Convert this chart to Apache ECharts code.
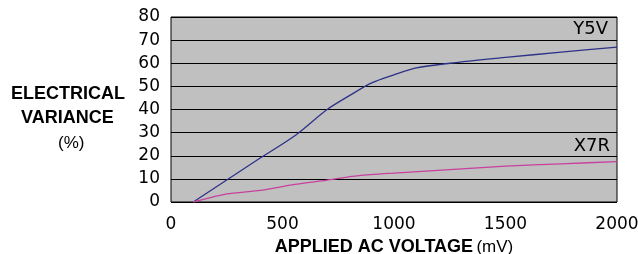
<!DOCTYPE html>
<html>
<head>
<meta charset="utf-8">
<script src="https://cdn.jsdelivr.net/npm/echarts@6/dist/echarts.min.js"></script>
<style>
  html, body { margin: 0; padding: 0; background: #fff; }
  #chart { width: 638px; height: 254px; }
</style>
</head>
<body>
<div id="chart"></div>
<script>
// applied AC voltage (mV) and electrical variance (%)
const y5vVoltage = [100, 250, 400, 560, 700, 800, 900, 1000, 1100, 1250, 1500, 1750, 2000]
const y5vVariance = [0, 9.5, 19, 29, 40, 46, 51.5, 55, 58, 60, 62.5, 64.8, 67]
const x7rVoltage = [100, 250, 400, 550, 700, 850, 1000, 1250, 1500, 1750, 2000]
const x7rVariance = [0, 3.5, 5, 7.5, 9.5, 11.5, 12.5, 14, 15.5, 16.5, 17.5]
const seriesNames = ['Y5V', 'X7R']

const pairs = (xs, ys) => xs.map((x, i) => [x, ys[i]])

const chart = echarts.init(document.getElementById('chart'))
const tickFont = 'DejaVu Sans'

chart.setOption({
  animation: false,
  grid: {
    left: 171,
    top: 17,
    width: 446,
    height: 185,
    outerBoundsMode: 'none',
    containLabel: false,
    show: true,
    backgroundColor: '#c0c0c0',
    borderColor: '#000',
    borderWidth: 1
  },
  xAxis: {
    type: 'value',
    min: 0,
    max: 2000,
    interval: 500,
    axisLine: { show: false },
    axisTick: { show: false },
    splitLine: { show: false },
    axisLabel: {
      color: '#000',
      fontFamily: tickFont,
      fontSize: 17,
      margin: 14,
      formatter: (v) => String(v)
    },
    name: '{b|APPLIED AC VOLTAGE} {n|(mV)}',
    nameLocation: 'middle',
    nameGap: 36,
    nameTextStyle: {
      rich: {
        b: { fontFamily: 'Liberation Sans', fontWeight: 'bold', fontSize: 18, color: '#000' },
        n: { fontFamily: 'Liberation Sans', fontSize: 17, color: '#000' }
      }
    }
  },
  yAxis: {
    type: 'value',
    min: 0,
    max: 80,
    interval: 10,
    axisLine: { show: false },
    axisTick: { show: false },
    splitLine: { show: true, lineStyle: { color: '#000', width: 1 } },
    axisLabel: { color: '#000', fontFamily: tickFont, fontSize: 17, margin: 11 }
  },
  graphic: [
    {
      type: 'text',
      left: 11,
      top: 85,
      style: {
        text: 'ELECTRICAL',
        font: 'bold 18px "Liberation Sans"',
        fill: '#000'
      }
    },
    {
      type: 'text',
      left: 21,
      top: 109,
      style: {
        text: 'VARIANCE',
        font: 'bold 18px "Liberation Sans"',
        fill: '#000'
      }
    },
    {
      type: 'text',
      left: 58,
      top: 135,
      style: {
        text: '(%)',
        font: '17px "Liberation Sans"',
        fill: '#000'
      }
    },
    {
      type: 'text',
      right: 30,
      top: 20,
      style: {
        text: seriesNames[0],
        font: '18px "DejaVu Sans"',
        fill: '#000'
      }
    },
    {
      type: 'text',
      right: 28,
      top: 137,
      style: {
        text: seriesNames[1],
        font: '18px "DejaVu Sans"',
        fill: '#000'
      }
    }
  ],
  series: [
    {
      name: seriesNames[0],
      type: 'line',
      data: pairs(y5vVoltage, y5vVariance),
      smooth: 0.3,
      symbol: 'none',
      lineStyle: { color: '#2e3188', width: 1.3 }
    },
    {
      name: seriesNames[1],
      type: 'line',
      data: pairs(x7rVoltage, x7rVariance),
      smooth: 0.2,
      symbol: 'none',
      lineStyle: { color: '#c8409e', width: 1.3 }
    }
  ]
})
</script>
</body>
</html>
